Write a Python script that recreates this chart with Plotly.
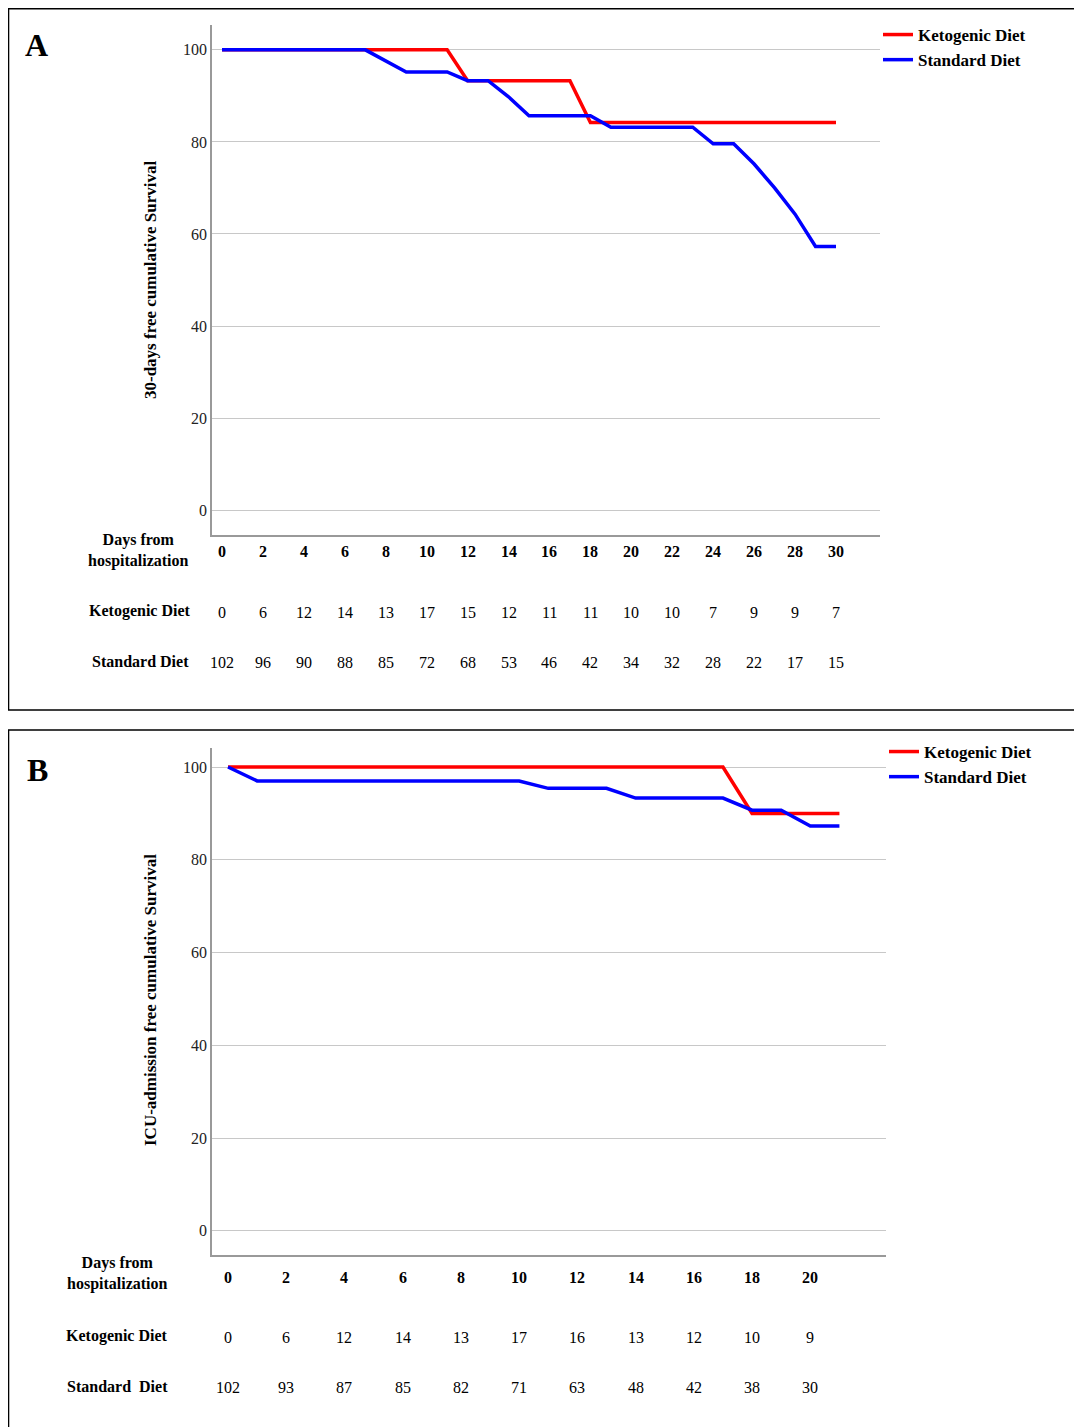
import plotly.graph_objects as go

W, H = 1082, 1427

# Panel A: 30-day survival
a_keto_x = [0, 11, 12, 17, 18, 30]
a_keto_y = [100, 100, 93.3, 93.3, 84.2, 84.2]
a_std_x = [0, 7, 9, 11, 12, 13, 14, 15, 18, 19, 23, 24, 25, 26, 27, 28, 29, 30]
a_std_y = [100, 100, 95.2, 95.2, 93.3, 93.3, 89.8, 85.7, 85.7, 83.2, 83.2, 79.6, 79.6, 75.2, 70, 64.3, 57.3, 57.3]
a_days = list(range(0, 31, 2))
a_keto_n = [0, 6, 12, 14, 13, 17, 15, 12, 11, 11, 10, 10, 7, 9, 9, 7]
a_std_n = [102, 96, 90, 88, 85, 72, 68, 53, 46, 42, 34, 32, 28, 22, 17, 15]

# Panel B: ICU-admission free survival
b_keto_x = [0, 17, 18, 21]
b_keto_y = [100, 100, 90, 90]
b_std_x = [0, 1, 10, 11, 13, 14, 17, 18, 19, 20, 21]
b_std_y = [100, 97, 97, 95.4, 95.4, 93.3, 93.3, 90.7, 90.7, 87.3, 87.3]
b_days = list(range(0, 21, 2))
b_keto_n = [0, 6, 12, 14, 13, 17, 16, 13, 12, 10, 9]
b_std_n = [102, 93, 87, 85, 82, 71, 63, 48, 42, 38, 30]

RED, BLUE = "#ff0000", "#0000ff"
SERIF = "Liberation Serif"
OFF = 8  # page body margin


def px(v):
    return (v - OFF) / W


def py(v):
    return 1 - (v - OFF) / H


fig = go.Figure()
fig.add_trace(go.Scatter(x=a_keto_x, y=a_keto_y, mode="lines", line=dict(color=RED, width=3.5),
                         name="<b>Ketogenic Diet</b>", xaxis="x", yaxis="y", legend="legend"))
fig.add_trace(go.Scatter(x=a_std_x, y=a_std_y, mode="lines", line=dict(color=BLUE, width=3.5),
                         name="<b>Standard Diet</b>", xaxis="x", yaxis="y", legend="legend"))
fig.add_trace(go.Scatter(x=b_keto_x, y=b_keto_y, mode="lines", line=dict(color=RED, width=3.5),
                         name="<b>Ketogenic Diet</b>", xaxis="x2", yaxis="y2", legend="legend2"))
fig.add_trace(go.Scatter(x=b_std_x, y=b_std_y, mode="lines", line=dict(color=BLUE, width=3.5),
                         name="<b>Standard Diet</b>", xaxis="x2", yaxis="y2", legend="legend2"))

axis_common = dict(showline=True, linecolor="#999", linewidth=1.5, zeroline=False, ticks="")
yax_common = dict(axis_common, gridcolor="#c8c8c8", gridwidth=1, tickvals=[0, 20, 40, 60, 80, 100],
                  tickfont=dict(family=SERIF, size=16, color="#222"))

fig.update_layout(
    width=W, height=H, margin=dict(l=0, r=0, t=0, b=0),
    paper_bgcolor="white", plot_bgcolor="white",
    font=dict(family=SERIF, color="black"),
    xaxis=dict(axis_common, domain=[px(212), px(880)], range=[-0.49, 32.15], showgrid=False,
               showticklabels=False, anchor="y"),
    yaxis=dict(yax_common, domain=[py(535), py(25)], range=[-5.4, 105.4], anchor="x"),
    xaxis2=dict(axis_common, domain=[px(212), px(886)], range=[-0.55, 22.6], showgrid=False,
                showticklabels=False, anchor="y2"),
    yaxis2=dict(yax_common, domain=[py(1255), py(748)], range=[-5.2, 104.1], anchor="x2"),
    legend=dict(x=px(878), y=py(17), xanchor="left", yanchor="top", bgcolor="rgba(0,0,0,0)",
                font=dict(family=SERIF, size=17), tracegroupgap=0, itemwidth=30),
    legend2=dict(x=px(884), y=py(734), xanchor="left", yanchor="top", bgcolor="rgba(0,0,0,0)",
                 font=dict(family=SERIF, size=17), tracegroupgap=0, itemwidth=30),
)

shapes = [
    dict(type="rect", xref="paper", yref="paper", x0=0.0005, x1=1.2, y0=py(710), y1=0.9995,
         line=dict(color="black", width=1.5)),
    dict(type="rect", xref="paper", yref="paper", x0=0.0005, x1=1.2, y0=-0.2, y1=py(730),
         line=dict(color="black", width=1.5)),
]
fig.update_layout(shapes=shapes)

ann = []


def add_text(x, y, text, xref="paper", size=16, bold=False, angle=0, anchor="center"):
    t = f"<b>{text}</b>" if bold else text
    ann.append(dict(x=x, y=y, xref=xref, yref="paper", text=t, showarrow=False, textangle=angle,
                    xanchor=anchor, yanchor="middle", font=dict(family=SERIF, size=size, color="black")))


add_text(px(36), py(45), "A", size=32, bold=True)
add_text(px(37), py(770), "B", size=32, bold=True)
add_text(px(150), py(280), "30-days free cumulative Survival", size=17, bold=True, angle=-90)
add_text(px(150), py(1000), "ICU-admission free cumulative Survival", size=17, bold=True, angle=-90)

add_text(px(138), py(550), "Days from<br>hospitalization", size=16, bold=True)
add_text(px(140), py(611), "Ketogenic Diet", size=16, bold=True)
add_text(px(140), py(661), "Standard Diet", size=16, bold=True)
for d, k, s in zip(a_days, a_keto_n, a_std_n):
    add_text(d, py(551), str(d), xref="x", size=16, bold=True)
    add_text(d, py(612), str(k), xref="x", size=16)
    add_text(d, py(662), str(s), xref="x", size=16)

add_text(px(117), py(1273), "Days from<br>hospitalization", size=16, bold=True)
add_text(px(117), py(1336), "Ketogenic Diet", size=16, bold=True)
add_text(px(117), py(1386), "Standard  Diet", size=16, bold=True)
for d, k, s in zip(b_days, b_keto_n, b_std_n):
    add_text(d, py(1277), str(d), xref="x2", size=16, bold=True)
    add_text(d, py(1337), str(k), xref="x2", size=16)
    add_text(d, py(1387), str(s), xref="x2", size=16)

fig.update_layout(annotations=ann)
fig.write_html("out.html")
